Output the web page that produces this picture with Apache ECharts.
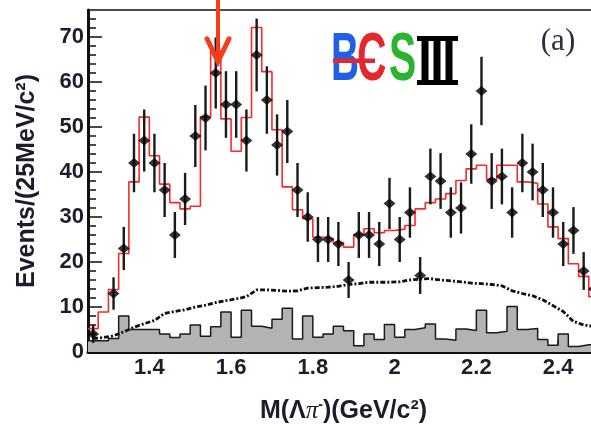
<!DOCTYPE html>
<html>
<head>
<meta charset="utf-8">
<script src="https://cdn.jsdelivr.net/npm/echarts@6/dist/echarts.min.js"></script>
<style>
  html, body { margin: 0; padding: 0; background: #fff; }
  #chart { width: 591px; height: 424px; }
</style>
</head>
<body>
<div id="chart"></div>
<script>
// binning of M(Lambda pi-) : 25 MeV bins from 1.25 to 2.5 GeV
var xMin = 1.25, xMax = 2.5, binWidth = 0.025;

// data (events per bin) and their errors
var dataCounts = [4, null, 13, 23, 42, 47, 42, 36, 26, 34,
                  48, 52, 62, 55, 55, 47, 66, 56, 46, 49,
                  36, 30, 25, 25, 24, 16, 26, 26, 24, 33,
                  25, 31, 17, 39, 38, 31, 32, 44, 58, 38,
                  39, 31, 42, 40, 36, 31, 24, 27, 18, 14];
var dataErrors = [2.0, null, 3.6, 4.8, 6.5, 6.9, 6.5, 6.0, 5.1, 5.8,
                  6.9, 7.2, 7.9, 7.4, 7.4, 6.9, 8.1, 7.5, 6.8, 7.0,
                  6.0, 5.5, 5.0, 5.0, 4.9, 4.0, 5.1, 5.1, 4.9, 5.7,
                  5.0, 5.6, 4.1, 6.2, 6.2, 5.6, 5.7, 6.6, 7.6, 6.2,
                  6.2, 5.6, 6.5, 6.3, 6.0, 5.6, 4.9, 5.2, 4.2, 3.7];

// total fit (red histogram)
var fitValues = [5.2, 8.9, 13.9, 21.9, 37.8, 52.2, 43.6, 37.3, 33.2, 31.8,
                 32.4, 52.3, 66.9, 51.8, 44.6, 52.1, 72.1, 62.3, 49.4, 36.7,
                 31.6, 29.6, 25.5, 25.2, 24.3, 23.3, 26.1, 27.4, 26.5, 27.0,
                 27.3, 28.1, 31.8, 33.2, 34.0, 35.2, 38.1, 40.7, 41.5, 38.4,
                 41.5, 41.5, 37.8, 37.5, 32.9, 27.8, 25.2, 19.6, 16.8, 12.3];

// non-resonant / phase space component (dash-dotted)
var phspValues = [3.0, 3.2, 3.6, 4.5, 5.5, 6.3, 7.0, 8.6, 9.0, 9.4,
                  10.0, 10.4, 11.0, 11.4, 11.8, 12.3, 13.8, 13.8, 13.7, 13.5,
                  13.6, 14.2, 14.3, 14.4, 14.6, 15.0, 15.2, 15.5, 15.5, 15.5,
                  15.6, 16.0, 16.2, 16.3, 16.0, 15.8, 15.6, 15.3, 15.2, 15.0,
                  14.7, 13.6, 13.0, 12.5, 11.6, 10.3, 9.0, 6.8, 6.0, 5.7];

// background (grey histogram)
var bkgValues = [2.5, 2.5, 3.0, 8.0, 5.0, 5.0, 5.0, 4.0, 3.2, 4.0,
                 6.0, 3.5, 5.6, 8.9, 3.3, 9.3, 5.7, 5.3, 7.3, 9.7,
                 2.9, 8.0, 3.3, 4.0, 5.7, 4.7, 1.4, 4.0, 2.8, 6.1,
                 3.3, 5.0, 5.4, 6.2, 2.9, 2.6, 5.1, 4.8, 9.3, 4.3,
                 4.6, 10.1, 5.0, 5.2, 2.8, 1.5, 4.0, 1.2, 1.6, 1.6];

var xLabels = [1.4, 1.6, 1.8, 2.0, 2.2, 2.4];
var yLabels = [0, 10, 20, 30, 40, 50, 60, 70];

var xMinorTicks = [];
for (var k = 0; k <= 25; k++) xMinorTicks.push(+(xMin + k * 0.05).toFixed(2));
var yMinorTicks = [];
for (var m = 0; m <= 37; m++) yMinorTicks.push(m * 2);

function binCenter(i) { return +(xMin + (i + 0.5) * binWidth).toFixed(4); }
function binEdge(i) { return +(xMin + i * binWidth).toFixed(4); }

// step histogram points: value held from left edge to next edge
function histPoints(vals) {
    var pts = vals.map(function (v, i) { return [binEdge(i), v]; });
    pts.push([xMax, vals[vals.length - 1]]);
    return pts;
}

var pointData = [];
var errData = [];
dataCounts.forEach(function (n, i) {
    if (n === null) return;
    pointData.push([binCenter(i), n]);
    errData.push([binCenter(i), n - dataErrors[i], n + dataErrors[i]]);
});

var textColor = '#1c1c2c';
var chart = echarts.init(document.getElementById('chart'));

var option = {
    animation: false,
    grid: {
        left: 88, right: -8, top: 10, bottom: 72,
        outerBoundsMode: 'none', containLabel: false,
        show: true, borderColor: '#111', borderWidth: 1.5, backgroundColor: 'transparent'
    },
    xAxis: [{
        type: 'value', min: xMin, max: xMax, position: 'bottom',
        axisLine: { onZero: false, lineStyle: { color: '#111', width: 3 } },
        axisTick: { inside: true, length: 12, customValues: xLabels, lineStyle: { color: '#111', width: 1.5 } },
        axisLabel: {
            customValues: xLabels, margin: 5, color: textColor,
            fontSize: 22, fontWeight: 'bold', fontFamily: 'Liberation Sans'
        },
        splitLine: { show: false },
        name: '{t|M(Λ}{p|π}{s|-}{t|)(GeV/c²)}',
        nameLocation: 'middle', nameGap: 46,
        nameTextStyle: {
            rich: {
                t: { fontSize: 25, fontWeight: 'bold', fontFamily: 'Liberation Sans', color: textColor, lineHeight: 27 },
                p: { fontSize: 25, fontStyle: 'italic', fontFamily: 'Liberation Serif', color: textColor, lineHeight: 27 },
                s: { fontSize: 14, fontWeight: 'bold', fontFamily: 'Liberation Sans', color: textColor, verticalAlign: 'top', lineHeight: 27 }
            }
        }
    }, {
        type: 'value', min: xMin, max: xMax, position: 'bottom',
        axisLine: { show: false },
        axisTick: { inside: true, length: 6, customValues: xMinorTicks, lineStyle: { color: '#111', width: 1.5 } },
        axisLabel: { show: false },
        splitLine: { show: false }
    }],
    yAxis: [{
        type: 'value', min: 0, max: 76, position: 'left',
        axisLine: { show: true, lineStyle: { color: '#111', width: 3 } },
        axisTick: { show: true, inside: true, length: 14, customValues: yLabels, lineStyle: { color: '#111', width: 1.5 } },
        axisLabel: {
            customValues: yLabels, margin: 4, color: textColor,
            fontSize: 22, fontWeight: 'bold', fontFamily: 'Liberation Sans'
        },
        splitLine: { show: false },
        name: 'Events/(25MeV/c²)',
        nameLocation: 'middle', nameGap: 48, nameRotate: 90,
        nameTextStyle: { fontSize: 25, fontWeight: 'bold', fontFamily: 'Liberation Sans', color: textColor }
    }, {
        type: 'value', min: 0, max: 76, position: 'left',
        axisLine: { show: false },
        axisTick: { show: true, inside: true, length: 8, customValues: yMinorTicks, lineStyle: { color: '#111', width: 1.5 } },
        axisLabel: { show: false },
        splitLine: { show: false }
    }],
    series: [{
        name: 'background',
        type: 'line', step: 'end', symbol: 'none',
        data: histPoints(bkgValues),
        lineStyle: { color: '#1a1a1a', width: 1.5 },
        areaStyle: { color: '#b3b3b3', opacity: 1 },
        z: 1
    }, {
        name: 'phase space',
        type: 'line', symbol: 'none',
        data: phspValues.map(function (v, i) { return [binCenter(i), v]; }),
        lineStyle: { color: '#111', width: 2.8, type: [5, 2, 2, 2] },
        z: 2
    }, {
        name: 'fit',
        type: 'line', step: 'end', symbol: 'none',
        data: histPoints(fitValues),
        lineStyle: { color: '#f52a2a', width: 1.6 },
        z: 3
    }, {
        name: 'errors',
        type: 'custom',
        data: errData,
        encode: { x: 0, y: [1, 2] },
        renderItem: function (params, api) {
            var lo = api.coord([api.value(0), api.value(1)]);
            var hi = api.coord([api.value(0), api.value(2)]);
            return {
                type: 'line',
                shape: { x1: lo[0], y1: lo[1], x2: hi[0], y2: hi[1] },
                style: { stroke: '#1a1a1a', lineWidth: 2.4 }
            };
        },
        z: 4
    }, {
        name: 'data',
        type: 'scatter',
        data: pointData,
        symbol: 'diamond', symbolSize: [12, 10],
        itemStyle: { color: '#000' },
        z: 5
    }],
    graphic: [
        // BESIII logo
        { id: 'logoB', type: 'text', x: 331, y: 61, scaleX: 0.57, style: { text: 'B', font: 'bold 68px "Liberation Sans"', fill: '#1f60e4', verticalAlign: 'middle' }, z: 10 },
        { id: 'logoE', type: 'text', x: 357, y: 61, scaleX: 0.6, style: { text: 'C', font: 'bold 68px "Liberation Sans"', fill: '#e5262c', verticalAlign: 'middle' }, z: 10 },
        { id: 'logoBar', type: 'rect', shape: { x: 333, y: 58.5, width: 42, height: 4.5 }, style: { fill: '#e5262c' }, z: 11 },
        { id: 'logoS', type: 'text', x: 389, y: 61, scaleX: 0.6, style: { text: 'S', font: 'bold 68px "Liberation Sans"', fill: '#2cb42f', verticalAlign: 'middle' }, z: 10 },
        { id: 'logoT', type: 'rect', shape: { x: 417, y: 36, width: 41, height: 5 }, style: { fill: '#000' }, z: 10 },
        { id: 'logoBt', type: 'rect', shape: { x: 417, y: 80, width: 41, height: 5 }, style: { fill: '#000' }, z: 10 },
        { id: 'logoI1', type: 'rect', shape: { x: 421.5, y: 36, width: 7, height: 49 }, style: { fill: '#000' }, z: 10 },
        { id: 'logoI2', type: 'rect', shape: { x: 433.5, y: 36, width: 7, height: 49 }, style: { fill: '#000' }, z: 10 },
        { id: 'logoI3', type: 'rect', shape: { x: 445.5, y: 36, width: 7, height: 49 }, style: { fill: '#000' }, z: 10 },
        // panel label
        { id: 'panel', type: 'text', x: 558, y: 42, style: { text: '(a)', font: '31px "Liberation Serif"', fill: '#2b2b45', align: 'center', verticalAlign: 'middle' }, z: 10 }
    ]
};

chart.setOption(option);

// red arrow marking the peak near 1.57 GeV
var tip = chart.convertToPixel({ gridIndex: 0 }, [1.568, 64.5]);
var arrowGraphic = [{
    id: 'arrowShaft', type: 'line', z: 20,
    shape: { x1: tip[0], y1: 0, x2: tip[0], y2: tip[1] - 2 },
    style: { stroke: '#f43c18', lineWidth: 4 }
}, {
    id: 'arrowHead', type: 'polyline', z: 20,
    shape: { points: [[tip[0] - 11, tip[1] - 23], [tip[0], tip[1]], [tip[0] + 11, tip[1] - 23]] },
    style: { stroke: '#f43c18', lineWidth: 5, fill: null, lineJoin: 'miter', lineCap: 'round' }
}];
chart.setOption({ graphic: option.graphic.concat(arrowGraphic) });
</script>
</body>
</html>
